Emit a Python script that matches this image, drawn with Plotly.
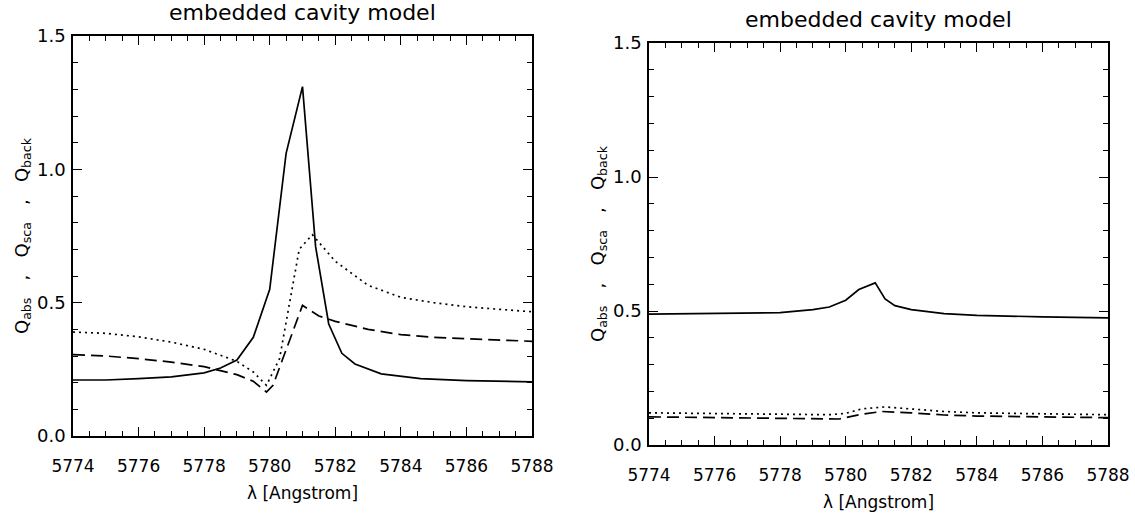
import plotly.graph_objects as go

# ---- data (wavelength in Angstrom) ----
# Left panel
wl_abs_L = [5774, 5775, 5776, 5777, 5778, 5778.5, 5779, 5779.5, 5780, 5780.5, 5781,
            5781.4, 5781.8, 5782.2, 5782.6, 5783.4, 5784.6, 5786, 5788]
q_abs_L = [0.21, 0.21, 0.215, 0.222, 0.237, 0.255, 0.285, 0.37, 0.55, 1.06, 1.31,
           0.71, 0.42, 0.31, 0.27, 0.233, 0.215, 0.208, 0.203]

wl_sca_L = [5774, 5775, 5776, 5777, 5778, 5779, 5779.5, 5779.9, 5780.3, 5780.9, 5781.3,
            5782, 5783, 5784, 5785, 5786, 5787, 5788]
q_sca_L = [0.39, 0.385, 0.372, 0.352, 0.325, 0.28, 0.24, 0.19, 0.29, 0.70, 0.755,
           0.655, 0.565, 0.52, 0.50, 0.485, 0.475, 0.466]

wl_back_L = [5774, 5775, 5776, 5777, 5778, 5779, 5779.5, 5779.9, 5780.1, 5781,
             5781.5, 5782, 5783, 5784, 5785, 5786, 5787, 5788]
q_back_L = [0.305, 0.30, 0.29, 0.277, 0.26, 0.23, 0.205, 0.165, 0.19, 0.49,
            0.45, 0.43, 0.40, 0.38, 0.37, 0.365, 0.36, 0.355]

# Right panel
wl_abs_R = [5774, 5776, 5778, 5779, 5779.5, 5780, 5780.4, 5780.9, 5781.2, 5781.5,
            5782, 5783, 5784, 5786, 5788]
q_abs_R = [0.488, 0.49, 0.494, 0.505, 0.515, 0.54, 0.58, 0.605, 0.545, 0.52,
           0.505, 0.49, 0.484, 0.478, 0.474]

wl_sca_R = [5774, 5776, 5778, 5779.5, 5780, 5780.5, 5781.2, 5782, 5783, 5784, 5786, 5788]
q_sca_R = [0.12, 0.118, 0.115, 0.113, 0.118, 0.135, 0.142, 0.135, 0.125, 0.12, 0.116, 0.113]

wl_back_R = [5774, 5776, 5778, 5779.8, 5780.5, 5781.1, 5782, 5783, 5784, 5786, 5788]
q_back_R = [0.105, 0.103, 0.10, 0.097, 0.115, 0.125, 0.12, 0.112, 0.108, 0.105, 0.102]

x_ticks = [5774, 5776, 5778, 5780, 5782, 5784, 5786, 5788]
y_ticks = [0.0, 0.5, 1.0, 1.5]
y_ticklabels = ["0.0", "0.5", "1.0", "1.5"]

title_text = "embedded cavity model"
x_title = "λ [Angstrom]"
y_title = "Q<sub>abs</sub>   ,   Q<sub>sca</sub>   ,   Q<sub>back</sub>"

FONT = "DejaVu Sans"
W, H = 1135, 517

fig = go.Figure()

def add_lines(wa, qa, ws, qs, wb, qb, xa, ya):
    fig.add_trace(go.Scatter(x=wa, y=qa, mode="lines", xaxis=xa, yaxis=ya,
                             line=dict(color="black", width=1.7), showlegend=False))
    fig.add_trace(go.Scatter(x=ws, y=qs, mode="lines", xaxis=xa, yaxis=ya,
                             line=dict(color="black", width=1.7, dash="2px,4px"),
                             showlegend=False))
    fig.add_trace(go.Scatter(x=wb, y=qb, mode="lines", xaxis=xa, yaxis=ya,
                             line=dict(color="black", width=1.7, dash="12px,6px"),
                             showlegend=False))

add_lines(wl_abs_L, q_abs_L, wl_sca_L, q_sca_L, wl_back_L, q_back_L, "x", "y")
add_lines(wl_abs_R, q_abs_R, wl_sca_R, q_sca_R, wl_back_R, q_back_R, "x2", "y2")

def xaxis(domain, anchor):
    return dict(domain=domain, anchor=anchor, range=[5774, 5788], automargin=False,
                tickvals=x_ticks, ticks="inside", ticklen=9, tickwidth=1.2,
                tickcolor="black", mirror="allticks", showline=True,
                linecolor="black", linewidth=1.5, showgrid=False, zeroline=False,
                ticklabelstandoff=14,
                minor=dict(dtick=0.5, ticks="inside", ticklen=5, tickwidth=1,
                           tickcolor="black", showgrid=False),
                tickfont=dict(family=FONT, size=17, color="black"),
                title=dict(text=x_title, font=dict(family=FONT, size=17, color="black"),
                           standoff=12))

def yaxis(domain, anchor):
    return dict(domain=domain, anchor=anchor, range=[0, 1.5], automargin=False,
                tickvals=y_ticks, ticktext=y_ticklabels, ticks="inside", ticklen=9,
                tickwidth=1.2, tickcolor="black", mirror="allticks", showline=True,
                linecolor="black", linewidth=1.5, showgrid=False, zeroline=False,
                ticklabelstandoff=2,
                minor=dict(dtick=0.1, ticks="inside", ticklen=5, tickwidth=1,
                           tickcolor="black", showgrid=False),
                tickfont=dict(family=FONT, size=18, color="black"),
                title=dict(text=y_title, font=dict(family=FONT, size=18, color="black"),
                           standoff=4))

xL = [73 / W, 532 / W]
yL = [1 - 436 / H, 1 - 36 / H]
xR = [649 / W, 1108 / W]
yR = [1 - 445 / H, 1 - 43 / H]

fig.update_layout(
    width=W, height=H, autosize=False,
    margin=dict(l=0, r=0, t=0, b=0),
    paper_bgcolor="white", plot_bgcolor="white",
    xaxis=xaxis(xL, "y"), yaxis=yaxis(yL, "x"),
    xaxis2=xaxis(xR, "y2"), yaxis2=yaxis(yR, "x2"),
    annotations=[
        dict(text=title_text, xref="paper", yref="paper",
             x=(xL[0] + xL[1]) / 2, y=yL[1] + 9 / H, xanchor="center", yanchor="bottom",
             showarrow=False, font=dict(family=FONT, size=22, color="black")),
        dict(text=title_text, xref="paper", yref="paper",
             x=(xR[0] + xR[1]) / 2, y=yR[1] + 9 / H, xanchor="center", yanchor="bottom",
             showarrow=False, font=dict(family=FONT, size=22, color="black")),
    ],
)

fig.write_html(
    "out.html",
    config={"displayModeBar": False},
    post_script="document.body.style.margin='0';document.body.style.overflow='hidden';",
)
